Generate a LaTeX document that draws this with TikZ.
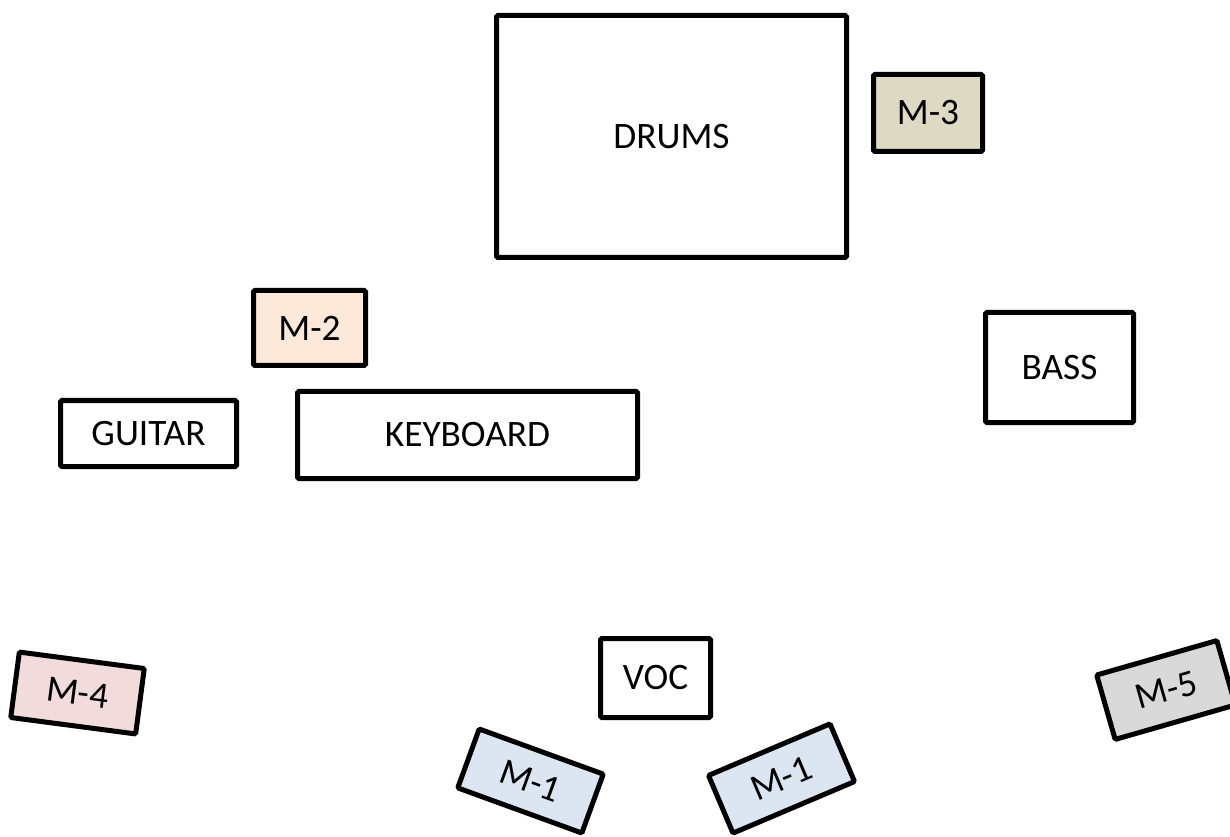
\documentclass[tikz,border=0pt]{standalone}
\usepackage{fontspec}
\setmainfont{Carlito}
\usepackage{xcolor}
\usepackage{tikz}

\definecolor{tanfill}{HTML}{DDD9C3}
\definecolor{peachfill}{HTML}{FDE9D9}
\definecolor{rosefill}{HTML}{F2DCDB}
\definecolor{bluefill}{HTML}{DCE6F2}
\definecolor{greyfill}{HTML}{D9D9D9}

\begin{document}
\begin{tikzpicture}[
    x=0.75pt, y=-0.75pt,
    every node/.style={
        draw,
        rectangle,
        line width=3.75pt,
        rounded corners=1pt,
        inner sep=0pt,
        font=\fontsize{28}{33}\selectfont
    },
    monitor/.style={
        minimum width=99pt,
        minimum height=47pt
    }
]

\useasboundingbox (0,0) rectangle (1230,837);

% instruments
\node[minimum width=262.5pt, minimum height=181.5pt] (drums) at (671.5,136.5) {DRUMS};
\node[minimum width=111pt, minimum height=82.5pt] (bass) at (1059.5,367.5) {BASS};
\node[minimum width=132pt, minimum height=49.5pt] (guitar) at (148.5,433.5) {GUITAR};
\node[minimum width=255pt, minimum height=65.25pt] (keyboard) at (467.5,435) {KEYBOARD};
\node[minimum width=82.5pt, minimum height=59.25pt] (voc) at (655.5,678) {VOC};

% monitors
\node[fill=tanfill, minimum width=81.75pt, minimum height=57.75pt] (m3) at (928,113) {M-3};
\node[fill=peachfill, minimum width=84pt, minimum height=56.25pt] (m2) at (309.5,328) {M-2};
\node[monitor, fill=rosefill, minimum width=94.5pt, minimum height=49.5pt, rotate=-7.5] (m4) at (77.5,693) {M-4};
\node[monitor, fill=bluefill, rotate=-20] (m1l) at (530.5,781) {M-1};
\node[monitor, fill=bluefill, rotate=23] (m1r) at (781.5,778.5) {M-1};
\node[monitor, fill=greyfill, minimum width=93.75pt, minimum height=50.25pt, rotate=16] (m5) at (1166,690) {M-5};

\end{tikzpicture}
\end{document}
